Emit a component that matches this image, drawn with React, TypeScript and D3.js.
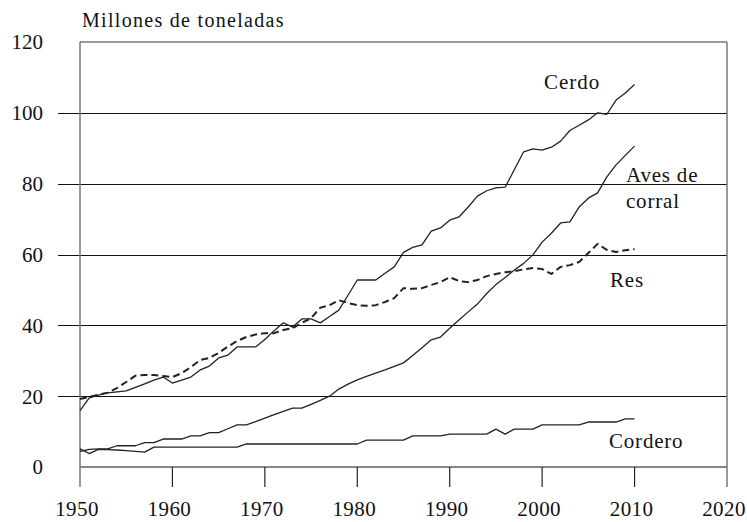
import * as d3 from 'd3';

const years = d3.range(1950, 2011);

const cerdo = [
  15.9, 19.5, 20.3, 20.9, 21.2, 21.5, 22.5, 23.5, 24.5, 25.4,
  23.7, 24.5, 25.4, 27.4, 28.5, 30.8, 31.6, 33.9, 33.9, 33.9,
  36, 38.5, 40.7, 39.5, 41.8, 41.8, 40.7, 42.5, 44.3, 48.5,
  52.8, 52.8, 52.8, 54.7, 56.5, 60.6, 62, 62.7, 66.6, 67.5,
  69.7, 70.6, 73.4, 76.5, 78, 78.8, 79, 84, 89, 89.8,
  89.5, 90.3, 92, 95, 96.5, 98, 100, 99.6, 103.6, 105.6, 108,
];

const res = [
  19.2, 19.8, 20.4, 21, 22.3, 24, 25.8, 26, 26, 25.7,
  25.4, 26.5, 28.2, 30.2, 30.8, 32.2, 34, 35.6, 36.7, 37.4,
  37.8, 37.8, 38.7, 39.2, 40.7, 42, 45, 45.7, 47.1, 46.3,
  45.7, 45.5, 45.7, 46.6, 47.7, 50.5, 50.3, 50.5, 51.4, 52.2,
  53.6, 52.5, 52.2, 52.8, 53.9, 54.5, 55, 55.3, 55.8, 56.2,
  55.9, 54.5, 56.5, 57, 57.9, 60.4, 63, 61.3, 60.7, 61.2, 61.5,
];

const aves = [
  4.4, 5, 5.1, 5.1, 6, 6, 6, 6.9, 6.9, 7.9,
  7.9, 7.9, 8.8, 8.8, 9.7, 9.7, 10.8, 11.9, 11.9, 12.8,
  13.8, 14.8, 15.7, 16.6, 16.6, 17.7, 18.8, 20, 22, 23.4,
  24.6, 25.6, 26.5, 27.4, 28.4, 29.4, 31.5, 33.7, 35.9, 36.7,
  39.2, 41.5, 43.8, 46, 49, 51.5, 53.5, 55.6, 57.5, 59.9,
  63.5, 66, 68.9, 69.2, 73.4, 75.9, 77.4, 81.9, 85.3, 88, 90.6,
];

const cordero = [
  5.1, 3.8, 5, 4.9, 4.8, 4.6, 4.4, 4.2, 5.6, 5.6,
  5.6, 5.6, 5.6, 5.6, 5.6, 5.6, 5.6, 5.6, 6.5, 6.5,
  6.5, 6.5, 6.5, 6.5, 6.5, 6.5, 6.5, 6.5, 6.5, 6.5,
  6.5, 7.6, 7.6, 7.6, 7.6, 7.6, 8.8, 8.8, 8.8, 8.8,
  9.3, 9.3, 9.3, 9.3, 9.3, 10.7, 9.3, 10.7, 10.7, 10.7,
  11.9, 11.9, 11.9, 11.9, 11.9, 12.7, 12.7, 12.7, 12.7, 13.6, 13.6,
];

const xTicks = [1950, 1960, 1970, 1980, 1990, 2000, 2010, 2020];
const yTicks = [0, 20, 40, 60, 80, 100, 120];

const W = 747;
const H = 522;
const FONT = "'Liberation Serif', 'DejaVu Serif', serif";
const txt = { fontFamily: FONT, fill: '#111' };

export default function App() {
  const x = d3.scaleLinear().domain([1950, 2020]).range([80, 727]);
  const y = d3.scaleLinear().domain([0, 120]).range([467, 42]);

  const line = d3
    .line<number>()
    .x((_, i) => x(years[i]))
    .y((d) => y(d));

  const series = [
    { name: 'cerdo', values: cerdo, dashed: false },
    { name: 'aves', values: aves, dashed: false },
    { name: 'cordero', values: cordero, dashed: false },
    { name: 'res', values: res, dashed: true },
  ];

  const x0 = x(1950);
  const x1 = x(2020);
  const tickBottom = y(0) + 20;

  return (
    <svg
      width={W}
      height={H}
      style={{ position: 'absolute', left: 0, top: 0, background: '#fff' }}
    >
      {/* gridlines */}
      {yTicks.slice(1, -1).map((t) => (
        <line
          key={t}
          x1={58}
          x2={x1}
          y1={Math.round(y(t)) + 0.5}
          y2={Math.round(y(t)) + 0.5}
          stroke="#111"
          strokeWidth={1.2}
        />
      ))}
      {/* baseline */}
      <line x1={x0} x2={x1} y1={y(0)} y2={y(0)} stroke="#111" strokeWidth={1.2} />
      {/* frame */}
      <line x1={x0} x2={x1} y1={y(120)} y2={y(120)} stroke="#777" strokeWidth={1.5} />
      <line x1={x0} x2={x0} y1={y(120)} y2={tickBottom} stroke="#777" strokeWidth={1.5} />
      <line x1={x1} x2={x1} y1={y(120)} y2={tickBottom} stroke="#777" strokeWidth={1.5} />
      {/* x ticks */}
      {xTicks.slice(1, -1).map((t) => (
        <line key={t} x1={x(t)} x2={x(t)} y1={y(0)} y2={tickBottom} stroke="#222" strokeWidth={1.2} />
      ))}

      {/* series */}
      {series.map((s) => (
        <path
          key={s.name}
          d={line(s.values) || ''}
          fill="none"
          stroke="#222"
          strokeWidth={s.dashed ? 2 : 1.3}
          strokeDasharray={s.dashed ? '7,4' : undefined}
          strokeLinejoin="round"
        />
      ))}

      {/* y labels */}
      {yTicks.map((t) => (
        <text key={t} x={43} y={y(t)} dy="0.35em" textAnchor="end" fontSize={21} style={txt}>
          {t}
        </text>
      ))}
      {/* x labels */}
      {xTicks.map((t) => (
        <text key={t} x={x(t) - 3} y={516} textAnchor="middle" fontSize={21} letterSpacing={0.4} style={txt}>
          {t}
        </text>
      ))}

      <text x={82} y={27} fontSize={20} letterSpacing={1.3} style={txt}>
        Millones de toneladas
      </text>

      {/* series labels */}
      <text x={544} y={89} fontSize={21} letterSpacing={1} style={txt}>Cerdo</text>
      <text x={626} y={182} fontSize={21} letterSpacing={0.8} style={txt}>Aves de</text>
      <text x={626} y={208} fontSize={21} letterSpacing={0.8} style={txt}>corral</text>
      <text x={610} y={287} fontSize={21} letterSpacing={0.8} style={txt}>Res</text>
      <text x={609} y={448} fontSize={21} letterSpacing={0.8} style={txt}>Cordero</text>
    </svg>
  );
}
